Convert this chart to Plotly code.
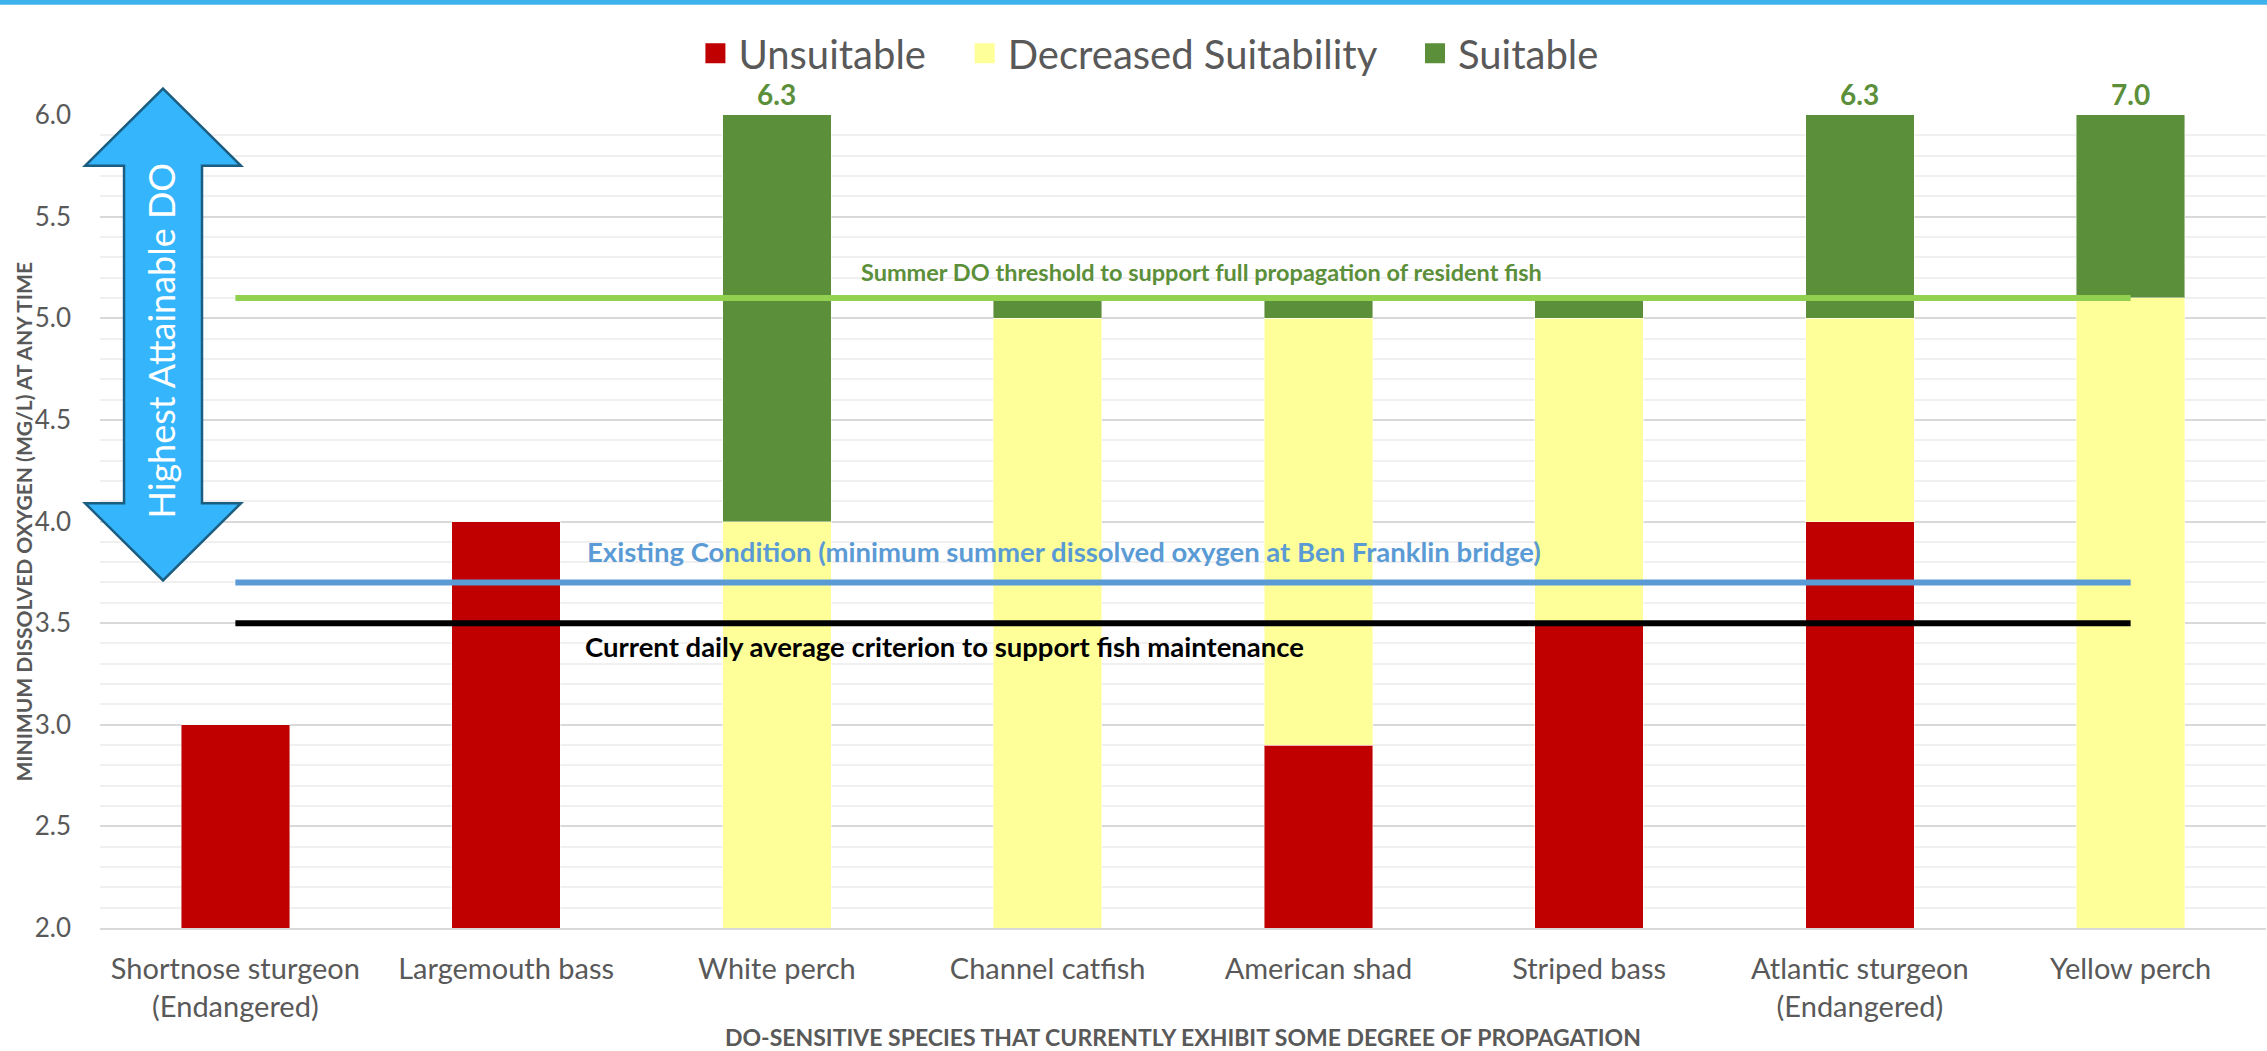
import plotly.graph_objects as go

# Species (x categories)
species = [
    "Shortnose sturgeon<br>(Endangered)",
    "Largemouth bass",
    "White perch",
    "Channel catfish",
    "American shad",
    "Striped bass",
    "Atlantic sturgeon<br>(Endangered)",
    "Yellow perch",
]

# Stacked DO ranges (mg/L) for each suitability class
unsuitable = [3.0, 4.0, 0.0, 0.0, 2.9, 3.5, 4.0, 0.0]
decreased = [0.0, 0.0, 4.0, 5.0, 2.1, 1.5, 1.0, 5.1]
suitable = [0.0, 0.0, 2.3, 0.1, 0.1, 0.1, 1.3, 1.9]

series_names = ["Unsuitable", "Decreased Suitability", "Suitable"]
series_colors = ["#C00000", "#FFFF99", "#5B8F3A"]

# Reference DO levels drawn across the species
threshold_values = [5.1, 3.7, 3.5]
threshold_colors = ["#92D050", "#5B9BD5", "#000000"]
threshold_labels = [
    "Summer DO threshold to support full propagation of resident fish",
    "Existing Condition (minimum summer dissolved oxygen at Ben Franklin bridge)",
    "Current daily average criterion to support fish maintenance",
]
threshold_label_colors = ["#5B8F3A", "#5B9BD5", "#000000"]
threshold_label_sizes = [23.5, 27.5, 27.5]
threshold_label_x = [3.57, 3.06, 2.62]
threshold_label_shift = [26, 31, -23]

y_min, y_max = 2.0, 6.0
y_ticks = [2.0, 2.5, 3.0, 3.5, 4.0, 4.5, 5.0, 5.5, 6.0]

FONT = "Lato"
GREY = "#595959"
NBSP = "\u00a0"

fig = go.Figure()

for name, vals, col in zip(series_names, [unsuitable, decreased, suitable], series_colors):
    fig.add_trace(go.Bar(
        x=species, y=vals, name=name, showlegend=False, legendgroup=name,
        marker=dict(color=col, line=dict(color="rgba(255,255,255,0.45)", width=1)),
        hoverinfo="skip",
    ))

for val, col in zip(threshold_values, threshold_colors):
    fig.add_trace(go.Scatter(
        x=[species[0], species[-1]], y=[val, val], mode="lines",
        line=dict(color=col, width=6), showlegend=False, hoverinfo="skip",
    ))

# Legend keys: large square swatches for the three suitability classes
for k, (name, col) in enumerate(zip(series_names, series_colors)):
    pad = NBSP * 3 if k < len(series_names) - 1 else ""
    fig.add_trace(go.Scatter(
        x=[None], y=[None], mode="markers", name=name + pad, legendgroup=name,
        marker=dict(symbol="square", size=16, color=col, line=dict(color=col, width=4)),
        hoverinfo="skip",
    ))

annotations = []
for val, txt, col, size, xpos, shift in zip(threshold_values, threshold_labels,
                                            threshold_label_colors, threshold_label_sizes,
                                            threshold_label_x, threshold_label_shift):
    annotations.append(dict(
        x=xpos, y=val, xref="x", yref="y", text=f"<b>{txt}</b>", showarrow=False,
        xanchor="center", yanchor="middle", yshift=shift,
        font=dict(family=FONT, size=size, color=col),
    ))

# Totals above the axis ceiling are written on top of the clipped bars
for i, sp in enumerate(species):
    total = unsuitable[i] + decreased[i] + suitable[i]
    if total > y_max:
        annotations.append(dict(
            x=sp, y=y_max, xref="x", yref="y", text=f"<b>{total:.1f}</b>",
            showarrow=False, xanchor="center", yanchor="bottom", yshift=2,
            font=dict(family=FONT, size=28, color="#5B8F3A"),
        ))

# Axis titles
annotations.append(dict(
    x=-0.0355, y=0.5, xref="paper", yref="paper", textangle=-90, showarrow=False,
    xanchor="center", yanchor="middle",
    text="<b>MINIMUM DISSOLVED OXYGEN (MG/L) AT ANY TIME</b>",
    font=dict(family=FONT, size=21, color=GREY),
))
annotations.append(dict(
    x=0.5, y=-0.134, xref="paper", yref="paper", showarrow=False,
    xanchor="center", yanchor="middle",
    text="<b>DO-SENSITIVE SPECIES THAT CURRENTLY EXHIBIT SOME DEGREE OF PROPAGATION</b>",
    font=dict(family=FONT, size=23, color=GREY),
))

# Double-headed "Highest Attainable DO" arrow at the left of the plot
ax_c, head_hw, shaft_hw = 0.0291, 0.036, 0.018
tip_top, base_top, base_bot, tip_bot = 6.13, 5.75, 4.09, 3.71
def py(v):
    return (v - y_min) / (y_max - y_min)
arrow_path = (
    f"M{ax_c},{py(tip_top)} L{ax_c + head_hw},{py(base_top)} L{ax_c + shaft_hw},{py(base_top)} "
    f"L{ax_c + shaft_hw},{py(base_bot)} L{ax_c + head_hw},{py(base_bot)} L{ax_c},{py(tip_bot)} "
    f"L{ax_c - head_hw},{py(base_bot)} L{ax_c - shaft_hw},{py(base_bot)} L{ax_c - shaft_hw},{py(base_top)} "
    f"L{ax_c - head_hw},{py(base_top)} Z"
)
shapes = [
    dict(type="path", xref="paper", yref="paper", path=arrow_path,
         fillcolor="#35B5FC", line=dict(color="#1B5E82", width=2.5), layer="above"),
    # thin accent bar along the top edge of the figure
    dict(type="rect", xref="paper", yref="paper", x0=-0.05, x1=1.01,
         y0=1.1355, y1=1.15, fillcolor="#3DB3EE", line=dict(width=0), layer="above"),
]
annotations.append(dict(
    x=ax_c - 0.001, y=py(4.89), xref="paper", yref="paper", textangle=-90,
    xanchor="center", yanchor="middle",
    showarrow=False, text="Highest Attainable DO",
    font=dict(family=FONT, size=36, color="white"),
))

fig.update_layout(
    width=2267, height=1051,
    margin=dict(l=100, r=1, t=115, b=123, autoexpand=False),
    barmode="stack", bargap=0.6,
    plot_bgcolor="white", paper_bgcolor="white",
    font=dict(family=FONT, color=GREY),
    legend=dict(orientation="h", x=0.4838, xanchor="center", y=1.076, yanchor="middle",
                font=dict(family=FONT, size=40, color=GREY), traceorder="normal",
                itemwidth=36, itemclick=False, itemdoubleclick=False),
    annotations=annotations,
    shapes=shapes,
)
fig.update_xaxes(
    showgrid=False, ticks="", showline=True, linecolor="#D9D9D9", linewidth=2,
    tickfont=dict(family=FONT, size=29, color=GREY), ticklabelstandoff=14,
)
fig.update_yaxes(
    range=[y_min, y_max], tickvals=y_ticks, ticktext=[f"{v:.1f}" for v in y_ticks],
    showgrid=True, gridcolor="#D9D9D9", gridwidth=2, zeroline=False,
    minor=dict(dtick=0.1, showgrid=True, gridcolor="#F0F0F0", gridwidth=2),
    tickfont=dict(family=FONT, size=26, color=GREY), ticks="", ticklabelstandoff=28,
)

fig.write_html("out.html")
